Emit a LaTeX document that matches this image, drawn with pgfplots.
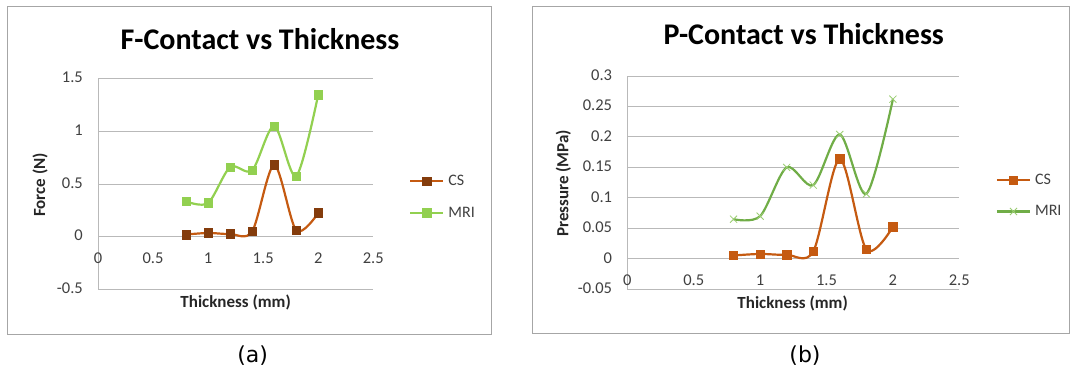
\documentclass[border=0pt]{standalone}
\usepackage{fontspec}
\setmainfont{Carlito}
\newfontfamily\dejavu{DejaVu Sans}
\usepackage{pgfplots}
\pgfplotsset{compat=1.18}
\definecolor{csline}{RGB}{197,90,17}
\definecolor{csmark}{RGB}{132,60,12}
\definecolor{mrilight}{RGB}{146,208,80}
\definecolor{mriline}{RGB}{112,173,71}
\definecolor{mrix}{RGB}{155,205,115}
\definecolor{gridc}{RGB}{185,185,185}
\definecolor{boxc}{RGB}{166,166,166}
\definecolor{txtc}{RGB}{64,64,64}
\pgfplotsset{
  mystyle/.style={
    scale only axis,
    axis y line*=left, axis x line*=bottom,
    x axis line style={draw=none},
    y axis line style={gridc, line width=0.9pt},
    ymajorgrids, major grid style={gridc, line width=0.9pt},
    tick style={draw=none},
    xmin=0, xmax=2.5,
    xtick={0,0.5,1,1.5,2,2.5},
    xticklabels={0,0.5,1,1.5,2,2.5},
    tick label style={font=\fontsize{16.5}{19}\selectfont, inner sep=0pt, text=txtc},
    yticklabel style={anchor=base east, xshift=-15pt, yshift=-4.3pt},
    label style={font=\fontsize{17}{20}\selectfont\bfseries, text=black!85},
    title style={font=\fontsize{30}{34}\selectfont\bfseries, anchor=center},
    legend style={draw=none, fill=none, anchor=west, inner sep=0pt,
      row sep=19.5pt, column sep=4pt,
      nodes={inner sep=0pt, anchor=west, text=txtc},
      font=\fontsize{16}{19}\selectfont},
    legend cell align=left,
    legend image code/.code={\draw[mark repeat=2,mark phase=2,#1] plot coordinates {(0pt,0pt)(16.5pt,0pt)(33pt,0pt)};},
  }
}
\begin{document}
\begin{tikzpicture}
\useasboundingbox (0pt,0pt) rectangle (1070pt,372pt);
\draw[boxc, line width=0.9pt] (7.3pt,38pt) rectangle (491.7pt,366pt);
\draw[boxc, line width=0.9pt] (532.4pt,39pt) rectangle (1069.5pt,365.3pt);
\node[font=\dejavu\fontsize{22}{26}\selectfont] at (252.6pt,16pt) {(a)};
\node[font=\dejavu\fontsize{22}{26}\selectfont] at (805pt,16pt) {(b)};

\begin{axis}[mystyle,
  at={(98pt,82.7pt)}, anchor=south west,
  width=275.3pt, height=210.6pt,
  ymin=-0.5, ymax=1.5,
  ytick={-0.5,0,0.5,1,1.5},
  yticklabels={-0.5,0,0.5,1,1.5},
  xticklabel style={anchor=base, yshift=25.5pt},
  title={F-Contact vs Thickness},
  title style={at={(rel axis cs:0.5885,1.1615)}},
  xlabel={Thickness (mm)},
  xlabel style={at={(rel axis cs:0.5,-0.0636)}, anchor=center},
  ylabel={Force (N)},
  ylabel style={at={(rel axis cs:-0.2107,0.4953)}, anchor=center},
  legend style={at={(rel axis cs:1.1297,0.4383)}},
]
\addplot[csline, line width=2.2pt, smooth, mark=square*, mark size=4.3pt,
  mark options={fill=csmark, draw=csmark, line width=0.5pt}]
  coordinates {(0.8,0.02) (1.0,0.035) (1.2,0.025) (1.4,0.05) (1.6,0.68) (1.8,0.06) (2.0,0.225)};
\addlegendentry{CS}
\addplot[mrilight, line width=2.2pt, smooth, mark=square*, mark size=4.3pt,
  mark options={fill=mrilight, draw=mrilight, line width=0.5pt}]
  coordinates {(0.8,0.335) (1.0,0.32) (1.2,0.66) (1.4,0.63) (1.6,1.05) (1.8,0.575) (2.0,1.35)};
\addlegendentry{MRI}
\end{axis}

\begin{axis}[mystyle,
  at={(627.3pt,82.7pt)}, anchor=south west,
  width=332pt, height=213.3pt,
  ymin=-0.05, ymax=0.3,
  ytick={-0.05,0,0.05,0.1,0.15,0.2,0.25,0.3},
  yticklabels={-0.05,0,0.05,0.1,0.15,0.2,0.25,0.3},
  xticklabel style={anchor=base, yshift=3.5pt},
  title={P-Contact vs Thickness},
  title style={at={(rel axis cs:0.5316,1.170)}},
  xlabel={Thickness (mm)},
  xlabel style={at={(rel axis cs:0.498,-0.0656)}, anchor=center},
  ylabel={Pressure (MPa)},
  ylabel style={at={(rel axis cs:-0.1925,0.497)}, anchor=center},
  legend style={at={(rel axis cs:1.1096,0.4381)}},
]
\addplot[csline, line width=2.2pt, smooth, mark=square*, mark size=4.2pt,
  mark options={fill=csline, draw=csline, line width=0.5pt}]
  coordinates {(0.8,0.0055) (1.0,0.008) (1.2,0.0066) (1.4,0.012) (1.6,0.164) (1.8,0.0153) (2.0,0.0525)};
\addlegendentry{CS}
\addplot[mriline, line width=2.2pt, smooth, mark=x, mark size=5pt,
  mark options={draw=mrix, line width=0.8pt}]
  coordinates {(0.8,0.065) (1.0,0.07) (1.2,0.15) (1.4,0.121) (1.6,0.204) (1.8,0.1066) (2.0,0.262)};
\addlegendentry{MRI}
\end{axis}
\end{tikzpicture}
\end{document}
